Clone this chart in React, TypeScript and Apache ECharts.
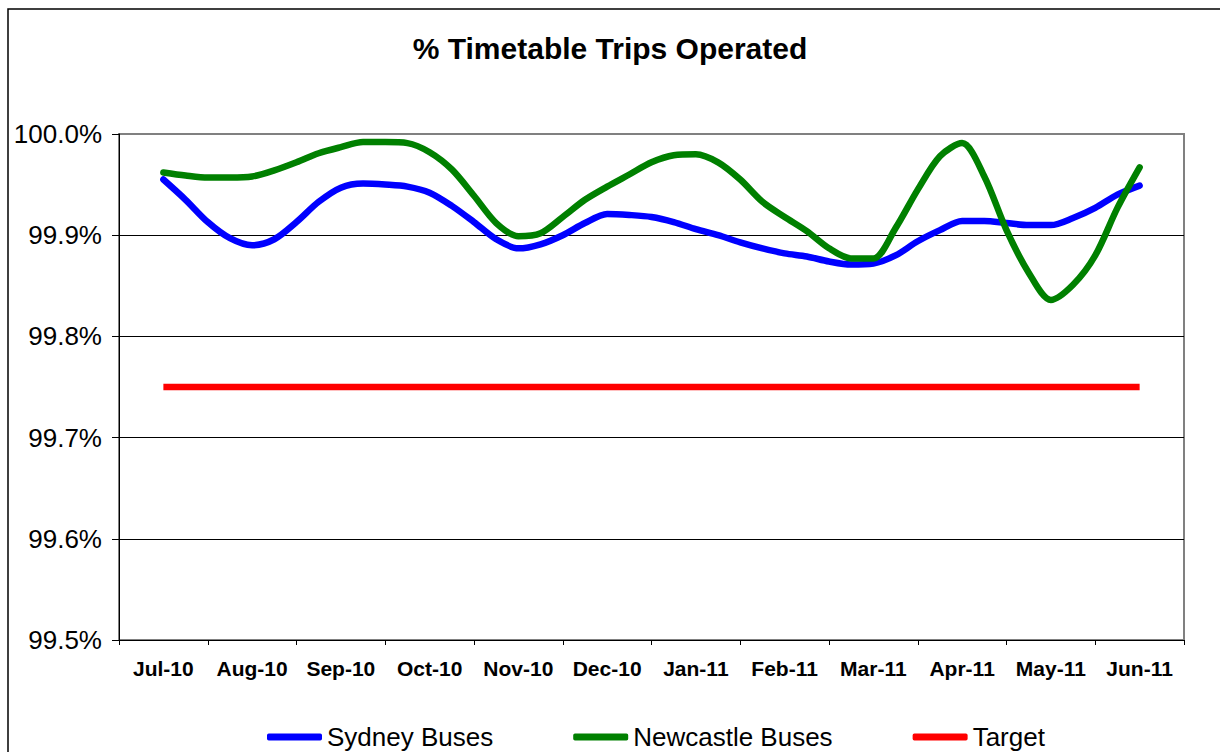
import React, { useEffect, useRef } from 'react';
import * as echarts from 'echarts';

const FONT = '"Liberation Sans", Arial, Helvetica, sans-serif';

const months = ['Jul-10', 'Aug-10', 'Sep-10', 'Oct-10', 'Nov-10', 'Dec-10', 'Jan-11', 'Feb-11', 'Mar-11', 'Apr-11', 'May-11', 'Jun-11'];

// sample positions, in months from Jul-10
const positions = [
  0, 0.25, 0.5, 0.75, 1, 1.25, 1.5, 1.75, 2, 2.25, 2.5, 2.75,
  3, 3.25, 3.5, 3.75, 4, 4.25, 4.5, 4.75, 5, 5.25, 5.5, 5.75,
  6, 6.25, 6.5, 6.75, 7, 7.25, 7.5, 7.75, 8, 8.25, 8.5, 8.75,
  9, 9.25, 9.5, 9.75, 10, 10.25, 10.5, 10.75, 11,
];

const sydney = [
  99.955, 99.935, 99.913, 99.897, 99.890, 99.896, 99.913, 99.933, 99.947, 99.951, 99.950, 99.948,
  99.942, 99.929, 99.913, 99.896, 99.887, 99.891, 99.900, 99.912, 99.921, 99.920, 99.918, 99.913,
  99.906, 99.900, 99.893, 99.887, 99.882, 99.879, 99.874, 99.871, 99.872, 99.880, 99.894, 99.905,
  99.914, 99.914, 99.912, 99.910, 99.910, 99.917, 99.927, 99.940, 99.949,
];

const newcastle = [
  99.962, 99.959, 99.957, 99.957, 99.958, 99.964, 99.972, 99.981, 99.987, 99.992, 99.992, 99.991,
  99.982, 99.965, 99.939, 99.912, 99.899, 99.902, 99.918, 99.935, 99.948, 99.960, 99.972, 99.979,
  99.980, 99.972, 99.955, 99.933, 99.918, 99.904, 99.887, 99.877, 99.877, 99.907, 99.945, 99.978,
  99.991, 99.958, 99.905, 99.863, 99.836, 99.851, 99.880, 99.927, 99.967,
];

const targetPositions = [0, 11];
const target = [99.75, 99.75];

const yTicks = { min: 99.5, max: 100, interval: 0.1 };

export default function App() {
  const ref = useRef<HTMLDivElement>(null);

  useEffect(() => {
    const chart = echarts.init(ref.current as HTMLDivElement, null, { renderer: 'svg' });
    const pair = (xs: number[], ys: number[]) => xs.map((x, i) => [x, ys[i]]);
    chart.setOption({
      animation: false,
      backgroundColor: '#ffffff',
      title: {
        text: '% Timetable Trips Operated',
        left: 'center',
        top: 33,
        padding: [0, 0, 0, 14],
        textStyle: { fontFamily: FONT, fontSize: 30, fontWeight: 'bold', color: '#000' },
      },
      grid: {
        left: 119,
        right: 36,
        top: 134,
        bottom: 112,
        show: true,
        borderColor: '#808080',
        borderWidth: 2,
        backgroundColor: 'transparent',
      },
      legend: {
        left: 267,
        top: 724,
        padding: 0,
        itemWidth: 55,
        itemHeight: 7,
        itemGap: 80,
        icon: 'roundRect',
        textStyle: { fontFamily: FONT, fontSize: 26, color: '#000' },
        data: ['Sydney Buses', 'Newcastle Buses', 'Target'],
      },
      xAxis: [
        {
          type: 'category',
          data: months,
          boundaryGap: true,
          axisLine: { lineStyle: { color: '#000', width: 1 } },
          axisTick: { show: true, length: 5, lineStyle: { color: '#000' } },
          axisLabel: {
            interval: 0,
            fontFamily: FONT,
            fontSize: 21,
            fontWeight: 'bold',
            color: '#000',
            margin: 18,
          },
          splitLine: { show: false },
        },
        { type: 'value', min: -0.5, max: 11.5, show: false },
      ],
      yAxis: {
        type: 'value',
        min: yTicks.min,
        max: yTicks.max,
        interval: yTicks.interval,
        axisLine: { show: true, onZero: false, lineStyle: { color: '#000', width: 1 } },
        axisTick: { show: true, length: 7, lineStyle: { color: '#000' } },
        axisLabel: {
          formatter: (v: number) => v.toFixed(1) + '%',
          fontFamily: FONT,
          fontSize: 26,
          color: '#000',
          margin: 17,
        },
        splitLine: {
          show: true,
          lineStyle: { color: ['#000', '#000', '#000', '#000', '#000', '#808080'], width: 1 },
        },
      },
      graphic: [
        {
          type: 'rect',
          silent: true,
          shape: { x: 8, y: 9, width: 1400, height: 900 },
          style: { fill: 'none', stroke: '#000', lineWidth: 1.5 },
        },
      ],
      series: [
        {
          name: 'Sydney Buses',
          type: 'line',
          xAxisIndex: 1,
          data: pair(positions, sydney),
          showSymbol: false,
          smooth: 0.3,
          lineStyle: { color: '#0000ff', width: 6.5, cap: 'round', join: 'round' },
          itemStyle: { color: '#0000ff' },
        },
        {
          name: 'Newcastle Buses',
          type: 'line',
          xAxisIndex: 1,
          data: pair(positions, newcastle),
          showSymbol: false,
          smooth: 0.3,
          lineStyle: { color: '#008000', width: 6.5, cap: 'round', join: 'round' },
          itemStyle: { color: '#008000' },
        },
        {
          name: 'Target',
          type: 'line',
          xAxisIndex: 1,
          data: pair(targetPositions, target),
          showSymbol: false,
          lineStyle: { color: '#ff0000', width: 6.5 },
          itemStyle: { color: '#ff0000' },
        },
      ],
    });
    return () => chart.dispose();
  }, []);

  return (
    <div
      ref={ref}
      style={{ position: 'fixed', left: 0, top: 0, width: 1220, height: 752, background: '#fff' }}
    />
  );
}
